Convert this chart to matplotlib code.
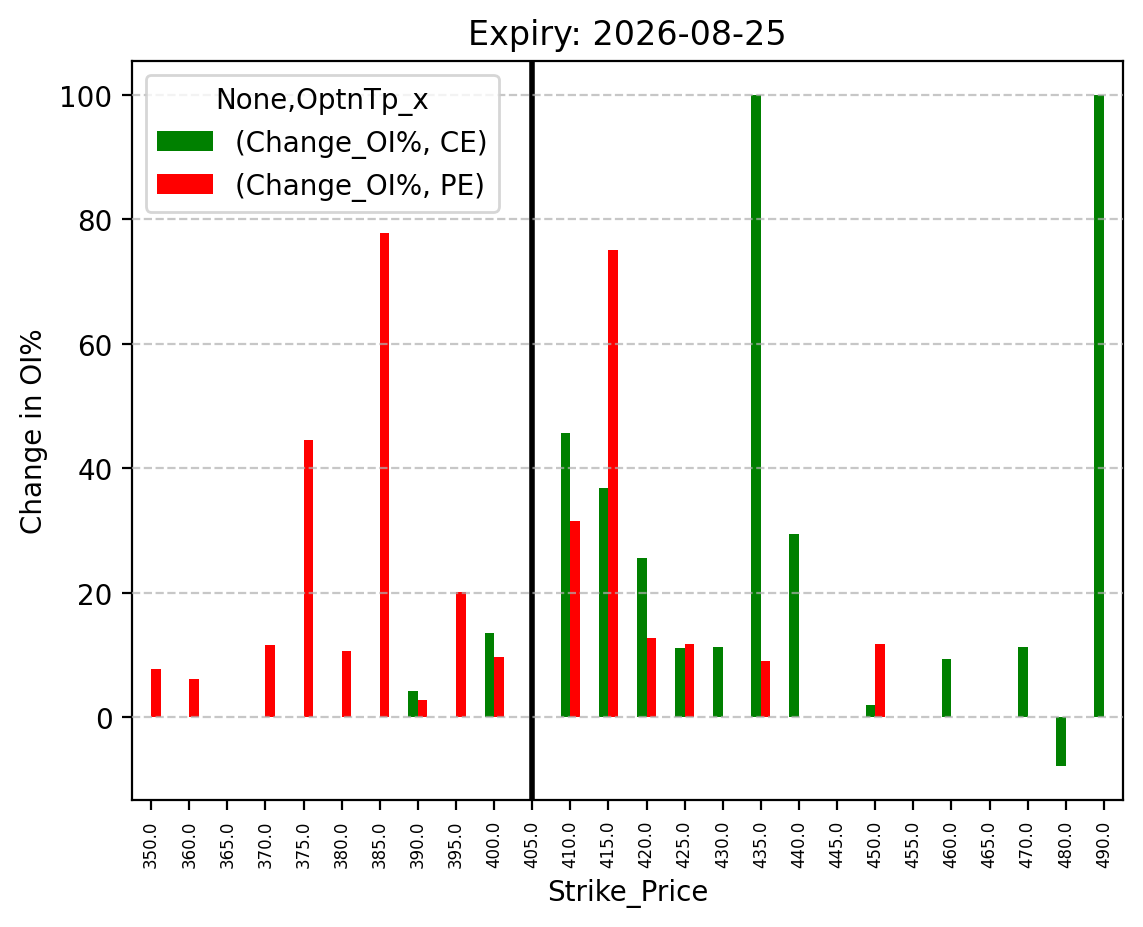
import matplotlib
matplotlib.use("Agg")
import matplotlib.pyplot as plt
import numpy as np

strikes = [350.0, 360.0, 365.0, 370.0, 375.0, 380.0, 385.0, 390.0, 395.0, 400.0,
           405.0, 410.0, 415.0, 420.0, 425.0, 430.0, 435.0, 440.0, 445.0, 450.0,
           455.0, 460.0, 465.0, 470.0, 480.0, 490.0]
ce_change = [0, 0, 0, 0, 0, 0, 0, 4.2, 0, 13.6,
             0, 45.6, 36.8, 25.5, 11.1, 11.2, 100.0, 29.5, 0, 1.9,
             0, 9.3, 0, 11.2, -7.9, 100.0]
pe_change = [7.7, 6.1, 0, 11.6, 44.5, 10.6, 77.7, 2.7, 20.1, 9.6,
             0, 31.5, 75.0, 12.7, 11.7, 0, 9.1, 0, 0, 11.7,
             0, 0, 0, 0, 0, 0]
atm_strike = 405.0
expiry = "2026-08-25"

fig = plt.figure(figsize=(5.715, 4.64), dpi=200)
ax = fig.add_axes([0.1155, 0.1369, 0.867, 0.7963])

x = np.arange(len(strikes))
w = 0.25
ax.bar(x - w / 2, ce_change, w, color="green", label="(Change_OI%, CE)")
ax.bar(x + w / 2, pe_change, w, color="red", label="(Change_OI%, PE)")
ax.set_xlim(-0.5, len(strikes) - 0.5)

ax.set_xticks(x)
ax.set_xticklabels([str(s) for s in strikes], rotation=90, fontsize=6)
ax.axvline(strikes.index(atm_strike), color="black", linewidth=2)

ax.grid(axis="y", linestyle="--", alpha=0.7)
ax.set_axisbelow(False)
ax.legend(title="None,OptnTp_x", loc="upper left")
ax.set_title("Expiry: " + expiry)
ax.set_xlabel("Strike_Price")
ax.set_ylabel("Change in OI%")

fig.savefig("out.png", dpi=200)
